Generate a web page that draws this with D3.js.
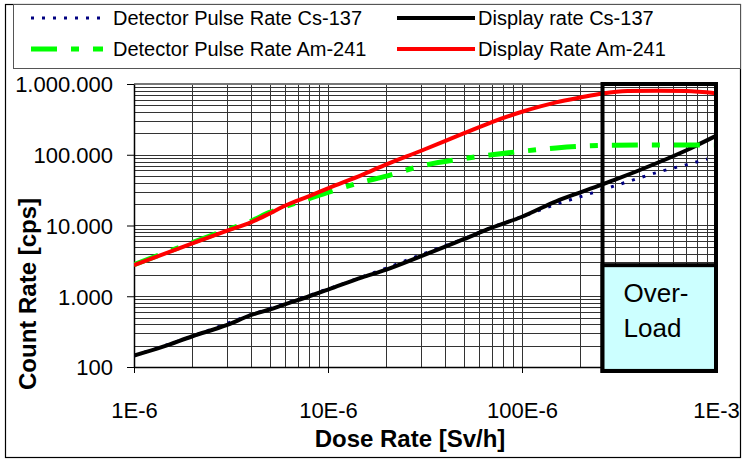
<!DOCTYPE html>
<html>
<head>
<meta charset="utf-8">
<script src="https://cdn.jsdelivr.net/npm/d3@7/dist/d3.min.js"></script>
<style>
  html, body { margin: 0; padding: 0; background: #fff; }
  svg { display: block; font-family: "Liberation Sans", Arial, sans-serif; }
</style>
</head>
<body>
<svg id="chart" width="745" height="462"></svg>
<script>
// ---------- DATA ----------
const seriesNames = ["Detector Pulse Rate Cs-137", "Display rate Cs-137", "Detector Pulse Rate Am-241", "Display Rate Am-241"];

const detectorCsDose = [1e-6, 2e-6, 4e-6, 6e-6, 1e-5, 2e-5, 3e-5, 5e-5, 7e-5, 1e-4, 1.5e-4, 2e-4, 2.5e-4, 3.5e-4, 5e-4, 7e-4, 9e-4];
const detectorCsRate = [145, 272, 548, 790, 1270, 2500, 3850, 6500, 9400, 13300, 20000, 25500, 31000, 41500, 56500, 72000, 87000];

const displayCsDose = [1e-6, 1.4e-6, 2e-6, 3e-6, 4e-6, 5e-6, 6e-6, 8e-6, 1e-5, 1.5e-5, 2e-5, 3e-5, 5e-5, 7e-5, 1e-4, 1.5e-4, 2e-4, 3e-4, 5e-4, 7e-4, 1e-3];
const displayCsRate = [145, 192, 272, 390, 540, 650, 770, 1000, 1240, 1850, 2380, 3650, 6400, 9300, 13300, 22000, 29500, 44000, 77000, 115000, 185000];

const detectorAmDose = [1e-6, 2e-6, 3e-6, 4e-6, 5e-6, 6e-6, 8e-6, 1e-5, 1.5e-5, 2e-5, 3e-5, 5e-5, 7e-5, 1e-4, 1.5e-4, 2e-4, 3e-4, 5e-4, 1e-3];
const detectorAmRate = [2800, 5750, 8650, 11500, 15300, 18400, 24000, 29500, 41000, 50000, 69000, 88000, 100000, 112000, 125000, 132000, 136000, 137000, 137000];

const displayAmDose = [1e-6, 2e-6, 3e-6, 4e-6, 5e-6, 6e-6, 8e-6, 1e-5, 1.5e-5, 2e-5, 3e-5, 5e-5, 7e-5, 1e-4, 1.5e-4, 2e-4, 2.6e-4, 3.5e-4, 5e-4, 7e-4, 1e-3];
const displayAmRate = [2750, 5600, 8400, 11100, 14800, 19000, 26000, 33500, 52000, 73000, 113000, 200000, 290000, 405000, 550000, 645000, 735000, 795000, 805000, 795000, 740000];

const xTickValues = [1e-6, 1e-5, 1e-4, 1e-3];
const xTickLabels = ["1E-6", "10E-6", "100E-6", "1E-3"];
const yTickValues = [100, 1000, 10000, 100000, 1000000];

const overloadDose = [2.6e-4, 1e-3];   // overload zone along x
const overloadRate = [88, 2750, 1e6];  // bottom, split, top

const xTitle = "Dose Rate [Sv/h]";
const yTitle = "Count Rate [cps]";
const overloadText = ["Over-", "Load"];

// ---------- LAYOUT ----------
const W = 745, H = 462;
const plot = { left: 134, right: 716, top: 84, bottom: 367 };

const svg = d3.select("#chart");

const x = d3.scaleLog().domain([1e-6, 1e-3]).range([plot.left, plot.right]);
const y = d3.scaleLog().domain([100, 1e6]).range([plot.bottom, plot.top]);

const dotLocale = d3.formatLocale({ decimal: ",", thousands: ".", grouping: [3], currency: ["", ""] });
const yFmt = dotLocale.format(",d");

// outer frame
svg.append("rect").attr("x", 5.5).attr("y", 4.5).attr("width", 735).attr("height", 453)
  .attr("fill", "#fff").attr("stroke", "#000").attr("stroke-width", 1.2);

// gridlines (major + minor)
const minorX = [];
for (let e = -6; e < -3; e++) for (let m = 1; m <= 9; m++) minorX.push(m * Math.pow(10, e));
minorX.push(1e-3);
const minorY = [];
for (let e = 2; e < 6; e++) for (let m = 1; m <= 9; m++) minorY.push(m * Math.pow(10, e));
minorY.push(1e6);

const grid = svg.append("g").attr("shape-rendering", "crispEdges");
grid.selectAll("line.gx").data(minorX).join("line")
  .attr("x1", d => Math.round(x(d)) + 0.5).attr("x2", d => Math.round(x(d)) + 0.5)
  .attr("y1", plot.top).attr("y2", plot.bottom)
  .attr("stroke", "#333").attr("stroke-width", 1);
grid.selectAll("line.gy").data(minorY).join("line")
  .attr("y1", d => Math.round(y(d)) + 0.5).attr("y2", d => Math.round(y(d)) + 0.5)
  .attr("x1", plot.left).attr("x2", plot.right)
  .attr("stroke", "#333").attr("stroke-width", 1);
// top edge slightly heavier grey
svg.append("line").attr("x1", plot.left).attr("x2", plot.right)
  .attr("y1", y(1e6)).attr("y2", y(1e6)).attr("stroke", "#777").attr("stroke-width", 2);

// axes
const xAxis = d3.axisBottom(x).tickValues(xTickValues)
  .tickFormat((d, i) => xTickLabels[i]).tickSize(6).tickSizeOuter(0).tickPadding(26);
const gx = svg.append("g").attr("transform", `translate(0,${plot.bottom})`).call(xAxis);
gx.select(".domain").attr("stroke", "#000").attr("stroke-width", 1.5);
gx.selectAll(".tick line").attr("stroke", "#000");
gx.selectAll(".tick text").attr("font-size", 22).attr("fill", "#000")
  .attr("font-family", "Liberation Sans, Arial, sans-serif").attr("dy", 0).attr("y", 51);

const yAxis = d3.axisLeft(y).tickValues(yTickValues).tickFormat(yFmt)
  .tickSize(7).tickSizeOuter(0).tickPadding(14);
const gy = svg.append("g").attr("transform", `translate(${plot.left},0)`).call(yAxis);
gy.select(".domain").attr("stroke", "#000").attr("stroke-width", 1.5);
gy.selectAll(".tick line").attr("stroke", "#000");
gy.selectAll(".tick text").attr("font-size", 22).attr("fill", "#000")
  .attr("font-family", "Liberation Sans, Arial, sans-serif").attr("dy", "0.36em");

// lines
const lineGen = d3.line().x(d => x(d[0])).y(d => y(d[1])).curve(d3.curveMonotoneX);
const zip = (a, b) => a.map((v, i) => [v, b[i]]);

const series = [
  { name: seriesNames[0], data: zip(detectorCsDose, detectorCsRate), color: "#000080", width: 3, dash: "3,8", cap: "butt" },
  { name: seriesNames[1], data: zip(displayCsDose, displayCsRate), color: "#000000", width: 4, dash: null, cap: "butt" },
  { name: seriesNames[2], data: zip(detectorAmDose, detectorAmRate), color: "#00FF00", width: 5, dash: "26,14,8,14", cap: "butt" },
  { name: seriesNames[3], data: zip(displayAmDose, displayAmRate), color: "#FF0000", width: 4, dash: null, cap: "butt" }
];

svg.append("clipPath").attr("id", "clip").append("rect")
  .attr("x", plot.left).attr("y", plot.top - 3).attr("width", plot.right - plot.left + 3).attr("height", plot.bottom - plot.top + 3);

const lines = svg.append("g").attr("clip-path", "url(#clip)");
series.forEach(s => {
  lines.append("path").attr("d", lineGen(s.data)).attr("fill", "none")
    .attr("stroke", s.color).attr("stroke-width", s.width)
    .attr("stroke-dasharray", s.dash).attr("stroke-linecap", s.cap).attr("stroke-linejoin", "round");
});

// overload zone
const ox0 = x(overloadDose[0]), ox1 = x(overloadDose[1]);
const oyTop = y(overloadRate[2]), oySplit = y(overloadRate[1]), oyBot = y(overloadRate[0]);
svg.append("rect").attr("x", ox0).attr("y", oyTop).attr("width", ox1 - ox0).attr("height", oyBot - oyTop)
  .attr("fill", "none").attr("stroke", "#000").attr("stroke-width", 4);
svg.append("rect").attr("x", ox0).attr("y", oySplit).attr("width", ox1 - ox0).attr("height", oyBot - oySplit)
  .attr("fill", "#CCFFFF").attr("stroke", "#000").attr("stroke-width", 4);
svg.append("g").selectAll("text").data(overloadText).join("text")
  .attr("x", ox0 + 21).attr("y", (d, i) => oySplit + 37 + i * 35)
  .attr("font-size", 26).attr("fill", "#000").text(d => d);

// axis titles
svg.append("text").attr("x", 410).attr("y", 447).attr("text-anchor", "middle")
  .attr("font-size", 24).attr("font-weight", "bold").text(xTitle);
svg.append("text").attr("transform", "translate(36,294) rotate(-90)").attr("text-anchor", "middle")
  .attr("font-size", 24).attr("font-weight", "bold").text(yTitle);

// legend
const lg = svg.append("g");
lg.append("rect").attr("x", 13.5).attr("y", 4.5).attr("width", 727).attr("height", 64)
  .attr("fill", "#fff").attr("stroke", "#555").attr("stroke-width", 1);
const legendPos = [
  { col: 0, row: 0 }, { col: 1, row: 0 }, { col: 0, row: 1 }, { col: 1, row: 1 }
];
const colSample = [[31, 103], [397, 475]];
const colText = [113, 478];
const rowY = [18, 49];
series.forEach((s, i) => {
  const p = legendPos[i];
  lg.append("line").attr("x1", colSample[p.col][0]).attr("x2", colSample[p.col][1])
    .attr("y1", rowY[p.row]).attr("y2", rowY[p.row])
    .attr("stroke", s.color).attr("stroke-width", s.width).attr("stroke-dasharray", s.dash);
  lg.append("text").attr("x", colText[p.col]).attr("y", rowY[p.row] + 7)
    .attr("font-size", 20).attr("fill", "#000").text(s.name);
});
</script>
</body>
</html>
